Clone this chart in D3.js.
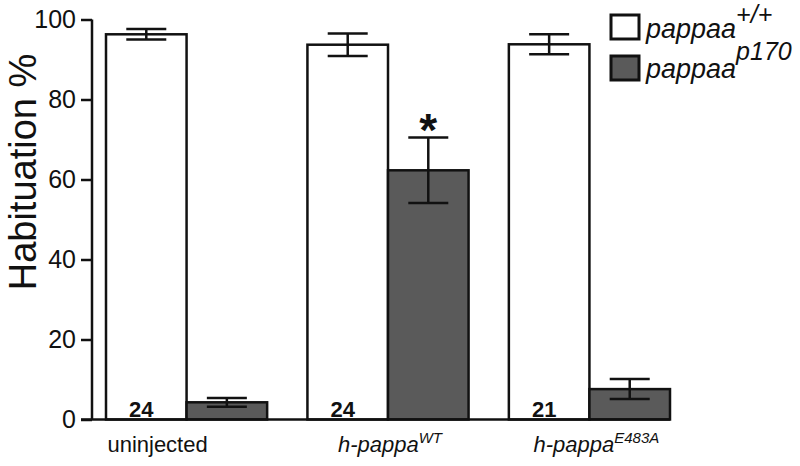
<!DOCTYPE html>
<html lang="en">
<head>
<meta charset="UTF-8">
<title>Habituation</title>
<script src="https://d3js.org/d3.v7.min.js"></script>
<style>
  body { margin: 0; background: #fff; }
  svg { display: block; font-family: "Liberation Sans", Arial, sans-serif; }
</style>
</head>
<body>
<svg width="800" height="466"></svg>
<script>
// === Data ===
const groups = ["uninjected", "h-pappaWT", "h-pappaE483A"];
const groupBase = ["uninjected", "h-pappa", "h-pappa"];
const groupSup = ["", "WT", "E483A"];
const genotypes = ["wt", "p170"];
const wtMeans = [96.3, 93.7, 93.8];
const wtErr = [1.3, 2.8, 2.5];
const mutMeans = [4.3, 62.3, 7.6];
const mutErr = [1.1, 8.2, 2.5];
const nLabels = ["24", "24", "21"];
const yTicks = [0, 20, 40, 60, 80, 100];

const svg = d3.select("svg");
const ink = "#111";

const y = d3.scaleLinear().domain([0, 100]).range([419.5, 19.5]);
const x0 = d3.scaleBand().domain(groups).range([106, 670]).paddingInner(0.2).paddingOuter(0);
const x1 = d3.scaleBand().domain(genotypes).range([0, x0.bandwidth()]);

const bars = [];
groups.forEach((g, i) => {
  bars.push({ g, k: "wt", v: wtMeans[i], e: wtErr[i] });
  bars.push({ g, k: "p170", v: mutMeans[i], e: mutErr[i] });
});

const fill = { wt: "#ffffff", p170: "#5a5a5a" };

// bars
svg.append("g").selectAll("rect")
  .data(bars)
  .join("rect")
  .attr("x", d => x0(d.g) + x1(d.k))
  .attr("y", d => y(d.v))
  .attr("width", x1.bandwidth())
  .attr("height", d => y(0) - y(d.v))
  .attr("fill", d => fill[d.k])
  .attr("stroke", ink)
  .attr("stroke-width", 2.5);

// error bars
const eb = svg.append("g").attr("stroke", ink).attr("stroke-width", 2.5);
bars.forEach(d => {
  const cx = x0(d.g) + x1(d.k) + x1.bandwidth() / 2;
  eb.append("line").attr("x1", cx).attr("x2", cx).attr("y1", y(d.v + d.e)).attr("y2", y(d.v - d.e));
  [d.v + d.e, d.v - d.e].forEach(v => {
    eb.append("line").attr("x1", cx - 20).attr("x2", cx + 20).attr("y1", y(v)).attr("y2", y(v));
  });
});

// n labels
svg.append("g").selectAll("text")
  .data(groups)
  .join("text")
  .attr("x", g => x0(g) + x1("wt") + x1.bandwidth() / 2 - 5)
  .attr("y", 417)
  .attr("text-anchor", "middle")
  .attr("font-size", 22)
  .attr("font-weight", "bold")
  .attr("fill", ink)
  .text((g, i) => nLabels[i]);

// asterisk
svg.append("text")
  .attr("x", x0(groups[1]) + x1("p170") + x1.bandwidth() / 2)
  .attr("y", y(mutMeans[1] + mutErr[1]) + 8)
  .attr("text-anchor", "middle")
  .attr("font-size", 46)
  .attr("font-weight", "bold")
  .attr("fill", ink)
  .text("*");

// y axis
const yAxis = svg.append("g")
  .attr("transform", "translate(92,0)")
  .call(d3.axisLeft(y).tickValues(yTicks).tickSize(11).tickPadding(5));
yAxis.select(".domain").attr("stroke", ink).attr("stroke-width", 2.5).attr("d", `M0,${y(100)}V${y(0)}`);
yAxis.selectAll(".tick line").attr("stroke", ink).attr("stroke-width", 2.5);
yAxis.selectAll(".tick text").attr("font-size", 25).attr("fill", ink).attr("font-family", "Liberation Sans, Arial, sans-serif");

// x baseline
svg.append("line")
  .attr("x1", 81).attr("x2", x0(groups[2]) + x0.bandwidth())
  .attr("y1", y(0)).attr("y2", y(0))
  .attr("stroke", ink).attr("stroke-width", 2.5);

// y label
svg.append("text")
  .attr("transform", "translate(36,172) rotate(-90)")
  .attr("text-anchor", "middle")
  .attr("font-size", 38)
  .attr("fill", ink)
  .text("Habituation %");

// x labels
const labelShift = [-29, 2, 7];
const xl = svg.append("g").attr("font-size", 22).attr("fill", ink);
groups.forEach((g, i) => {
  const t = xl.append("text")
    .attr("x", x0(g) + x0.bandwidth() / 2 + labelShift[i])
    .attr("y", 452)
    .attr("text-anchor", "middle");
  t.append("tspan").attr("font-style", i ? "italic" : "normal").text(groupBase[i]);
  if (groupSup[i]) t.append("tspan").attr("font-size", 15).attr("font-style", "italic").attr("dy", -9).text(groupSup[i]);
});

// legend
const legendItems = [
  { k: "wt", sup: "+/+", y: 15, base: 38, dy: -15 },
  { k: "p170", sup: "p170", y: 56, base: 78, dy: -18 }
];
const lg = svg.append("g");
legendItems.forEach(d => {
  lg.append("rect")
    .attr("x", 611).attr("y", d.y).attr("width", 28).attr("height", 24)
    .attr("fill", fill[d.k]).attr("stroke", ink).attr("stroke-width", 3);
  const t = lg.append("text")
    .attr("x", 646).attr("y", d.base)
    .attr("font-size", 27).attr("font-style", "italic").attr("fill", ink);
  t.append("tspan").text("pappaa");
  t.append("tspan").attr("font-size", 25).attr("dy", d.dy).text(d.sup);
});
</script>
</body>
</html>
